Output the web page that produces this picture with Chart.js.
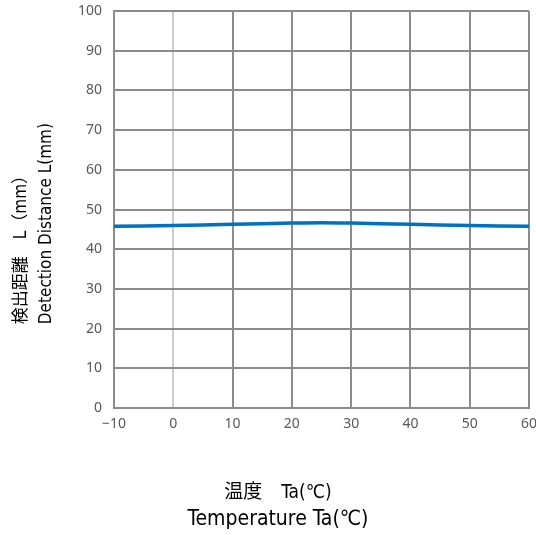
<!DOCTYPE html>
<html lang="ja">
<head>
    <meta charset="UTF-8">
    <title>Detection Distance vs Temperature</title>
    <script src="https://cdn.jsdelivr.net/npm/chart.js"></script>
    <style>
        body { margin: 0; background: #fff; }
        .wrap { width: 536px; height: 535px; }
    </style>
</head>
<body>
    <div class="wrap"><canvas id="chart"></canvas></div>
    <script>
        // temperature (°C) and detection distance (mm)
        const temps = [-10, 0, 10, 20, 25, 30, 40, 50, 60];
        const distances = [45.8, 46.0, 46.3, 46.6, 46.7, 46.6, 46.3, 46.0, 45.8];

        const xTitle = ['温度　Ta(℃)', 'Temperature Ta(℃)'];
        const yTitle = ['検出距離　L（mm）', 'Detection Distance L(mm)'];

        const points = temps.map((t, i) => ({ x: t, y: distances[i] }));
        const tickFont = { family: 'Noto Sans, sans-serif', size: 14 };
        const titleFamily = '"DejaVu Sans Condensed", "Noto Sans CJK JP", sans-serif';

        // no label overhang: the plot box is set by layout padding
        const noOverhang = scale => {
            scale.paddingTop = scale.paddingBottom = 0;
            scale.paddingLeft = scale.paddingRight = 0;
        };

        // axis titles sit off-centre in the original, so draw them by hand
        const axisTitles = {
            id: 'axisTitles',
            afterDraw(chart) {
                const { ctx, chartArea: a } = chart;
                ctx.save();
                ctx.fillStyle = '#000';
                ctx.textBaseline = 'middle';

                ctx.textAlign = 'center';
                const cx = a.left + (a.right - a.left) * 0.395;
                ctx.font = '19px ' + titleFamily;
                ctx.fillText(xTitle[0], cx, a.bottom + 85);
                ctx.font = '21px ' + titleFamily;
                ctx.fillText(xTitle[1], cx, a.bottom + 111);

                ctx.translate(a.left, a.bottom - 84);
                ctx.rotate(-Math.PI / 2);
                ctx.textAlign = 'left';
                ctx.font = '17px ' + titleFamily;
                ctx.fillText(yTitle[0], 0, -92);
                ctx.font = '17px ' + titleFamily;
                ctx.fillText(yTitle[1], 0, -67);
                ctx.restore();
            }
        };

        new Chart(document.getElementById('chart'), {
            type: 'scatter',
            data: {
                datasets: [{
                    data: points,
                    showLine: true,
                    borderColor: '#0070C0',
                    borderWidth: 3.5,
                    pointRadius: 0,
                    tension: 0.3
                }]
            },
            options: {
                responsive: true,
                maintainAspectRatio: false,
                animation: false,
                layout: { padding: { top: 11, right: 7, left: 66, bottom: 96 } },
                plugins: { legend: { display: false }, tooltip: { enabled: false } },
                scales: {
                    x: {
                        type: 'linear',
                        min: -10,
                        max: 60,
                        afterFit: noOverhang,
                        ticks: {
                            stepSize: 10,
                            color: '#595959',
                            font: tickFont,
                            padding: 7,
                            callback: v => v < 0 ? '\u2212' + Math.abs(v) : v
                        },
                        grid: {
                            drawTicks: false,
                            lineWidth: 2,
                            color: ctx => ctx.tick && ctx.tick.value === 0 ? '#cccccc' : '#8c8c8c'
                        },
                        border: { color: '#8c8c8c', width: 2 }
                    },
                    y: {
                        min: 0,
                        max: 100,
                        afterFit: noOverhang,
                        ticks: {
                            stepSize: 10,
                            color: '#595959',
                            font: tickFont,
                            padding: 12
                        },
                        grid: { drawTicks: false, lineWidth: 2, color: '#8c8c8c' },
                        border: { color: '#8c8c8c', width: 2 }
                    }
                }
            },
            plugins: [axisTitles]
        });
    </script>
</body>
</html>
